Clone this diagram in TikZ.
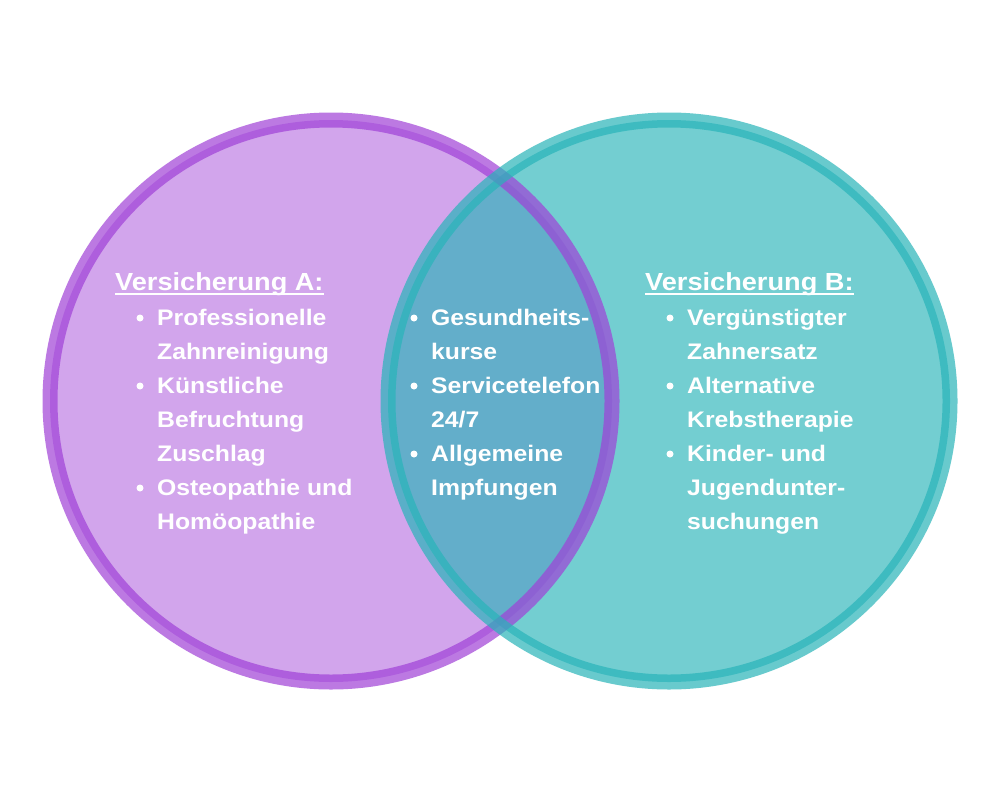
\documentclass[tikz,border=0pt]{standalone}
\usepackage{fontspec}
\setmainfont{Liberation Sans}
\newfontfamily\itemfont[FakeStretch=1.1]{Liberation Sans}
\definecolor{pA}{RGB}{160,65,215}
\definecolor{tB}{RGB}{40,180,185}
\begin{document}
\begin{tikzpicture}[x=1pt,y=-1pt,
  itemtxt/.style={anchor=base west, inner sep=0pt, align=left, text=white,
    font=\itemfont\bfseries\fontsize{22.5}{34}\selectfont},
  headtxt/.style={anchor=base west, inner sep=0pt, text=white,
    font=\itemfont\bfseries\fontsize{24.7}{30}\selectfont},
  bul/.style={circle, fill=white, inner sep=0pt, minimum size=7pt},
  uline/.style={white, line width=2.4pt}]
\useasboundingbox (0,0) rectangle (1000,800);
\fill[white] (0,0) rectangle (1000,800);
% circle fills
\fill[pA, fill opacity=0.47] (331,401) circle [radius=281pt];
\fill[tB, fill opacity=0.65] (669,401) circle [radius=281pt];
% circle rims
\draw[pA, draw opacity=0.7, line width=15pt] (331,401) circle [radius=281pt];
\draw[tB, draw opacity=0.7, line width=15pt] (669,401) circle [radius=281pt];

% Versicherung A (base anchor = baseline of the last line)
\node[headtxt] (hA) at (115,290) {Versicherung A:};
\draw[uline] ([yshift=-4pt]hA.base west) -- ([yshift=-4pt]hA.base east);
\node[itemtxt] (a1) at (157,359) {Professionelle\\Zahnreinigung};
\node[itemtxt] (a2) at (157,461) {Künstliche\\Befruchtung\\Zuschlag};
\node[itemtxt] (a3) at (157,529) {Osteopathie und\\Homöopathie};
\node[bul] (ba1) at (140,318) {};
\node[bul] (ba2) at (140,386) {};
\node[bul] (ba3) at (140,488) {};

% Gemeinsam
\node[itemtxt] (c1) at (431,359) {Gesundheits-\\kurse};
\node[itemtxt] (c2) at (431,427) {Servicetelefon\\24/7};
\node[itemtxt] (c3) at (431,495) {Allgemeine\\Impfungen};
\node[bul] (bc1) at (414,318) {};
\node[bul] (bc2) at (414,386) {};
\node[bul] (bc3) at (414,454) {};

% Versicherung B
\node[headtxt] (hB) at (645,290) {Versicherung B:};
\draw[uline] ([yshift=-4pt]hB.base west) -- ([yshift=-4pt]hB.base east);
\node[itemtxt] (b1) at (687,359) {Vergünstigter\\Zahnersatz};
\node[itemtxt] (b2) at (687,427) {Alternative\\Krebstherapie};
\node[itemtxt] (b3) at (687,529) {Kinder- und\\Jugendunter-\\suchungen};
\node[bul] (bb1) at (670,318) {};
\node[bul] (bb2) at (670,386) {};
\node[bul] (bb3) at (670,454) {};
\end{tikzpicture}
\end{document}
